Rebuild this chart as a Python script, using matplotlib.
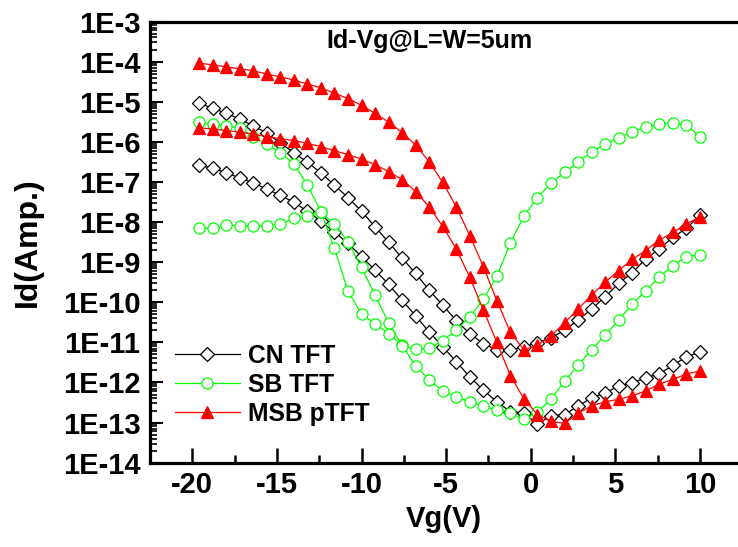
import numpy as np
import matplotlib
matplotlib.use("Agg")
import matplotlib.pyplot as plt
from matplotlib.ticker import FixedLocator, FixedFormatter, LogLocator, NullFormatter, MultipleLocator

plt.rcParams['font.family'] = ['Liberation Sans', 'DejaVu Sans']
plt.rcParams['font.weight'] = 'bold'
plt.rcParams['axes.unicode_minus'] = False

# Gate voltage sweep (V)
vg = [-19.6, -18.8, -18.0, -17.2, -16.4, -15.6, -14.8, -14.0, -13.2, -12.4,
      -11.6, -10.8, -10.0, -9.2, -8.4, -7.6, -6.8, -6.0, -5.2, -4.4,
      -3.6, -2.8, -2.0, -1.2, -0.4, 0.4, 1.2, 2.0, 2.8, 3.6,
      4.4, 5.2, 6.0, 6.8, 7.6, 8.4, 9.2, 10.0]

# Drain current, stored as log10(Id / A)
cn_high = [-5.04, -5.16, -5.29, -5.43, -5.60, -5.78, -6.03, -6.27, -6.51, -6.77,
           -7.08, -7.39, -7.73, -8.12, -8.50, -8.90, -9.28, -9.70, -10.07, -10.46,
           -10.78, -11.03, -11.19, -11.19, -11.11, -11.01, -10.88, -10.70, -10.44, -10.17,
           -9.86, -9.53, -9.26, -8.92, -8.67, -8.38, -8.16, -7.83]
cn_low = [-6.58, -6.66, -6.77, -6.90, -7.02, -7.18, -7.33, -7.51, -7.73, -7.98,
          -8.25, -8.53, -8.86, -9.20, -9.55, -9.95, -10.34, -10.74, -11.11, -11.48,
          -11.86, -12.19, -12.48, -12.73, -12.77, -13.04, -12.83, -12.80, -12.59, -12.38,
          -12.26, -12.09, -12.01, -11.88, -11.79, -11.57, -11.36, -11.24]
sb_high = [-5.51, -5.56, -5.61, -5.66, -5.87, -6.06, -6.27, -6.55, -7.08, -7.74,
           -8.65, -9.72, -10.30, -10.53, -10.78, -11.07, -11.17, -11.15, -10.96, -10.69,
           -10.36, -9.93, -9.35, -8.52, -7.85, -7.39, -7.03, -6.76, -6.50, -6.26,
           -6.05, -5.90, -5.75, -5.64, -5.56, -5.52, -5.58, -5.87]
sb_low = [-8.16, -8.16, -8.07, -8.10, -8.10, -8.10, -8.05, -7.91, -7.85, -7.76,
          -8.04, -8.50, -9.13, -9.82, -10.51, -11.08, -11.59, -11.94, -12.21, -12.36,
          -12.48, -12.59, -12.69, -12.77, -12.92, -12.74, -12.42, -11.97, -11.57, -11.18,
          -10.82, -10.44, -10.05, -9.71, -9.36, -9.09, -8.86, -8.82]
msb_high = [-4.04, -4.08, -4.13, -4.18, -4.23, -4.31, -4.38, -4.46, -4.56, -4.65,
            -4.79, -4.92, -5.09, -5.29, -5.51, -5.77, -6.08, -6.50, -7.01, -7.62,
            -8.34, -9.11, -9.96, -10.75, -11.19, -11.07, -10.84, -10.51, -10.17, -9.82,
            -9.50, -9.21, -8.93, -8.71, -8.45, -8.26, -8.05, -7.87]
msb_low = [-5.65, -5.68, -5.72, -5.76, -5.81, -5.87, -5.92, -5.97, -6.04, -6.12,
           -6.22, -6.32, -6.43, -6.57, -6.74, -6.94, -7.24, -7.62, -8.11, -8.67,
           -9.38, -10.19, -11.00, -11.83, -12.41, -12.80, -12.97, -13.02, -12.77, -12.58,
           -12.48, -12.42, -12.33, -12.21, -12.04, -11.92, -11.79, -11.71]

y_exponents = list(range(-14, -2))
y_tick_labels = [f"1E{e}" for e in y_exponents]
x_ticks = [-20, -15, -10, -5, 0, 5, 10]

fig = plt.figure(figsize=(7.38, 5.47), dpi=100)
ax = fig.add_axes([150 / 738, 84.3 / 547, 588 / 738, 441.2 / 547])


def curve(logs, color, marker, ms, face, label=None):
    return ax.plot(vg, 10.0 ** np.asarray(logs), color=color, lw=0.9,
                   marker=marker, ms=ms, mfc=face, mec=color, mew=0.9,
                   label=label)[0]


h_cn = curve(cn_high, 'black', 'D', 7.0, 'white', 'CN TFT')
curve(cn_low, 'black', 'D', 7.0, 'white')
h_sb = curve(sb_high, '#00ff00', 'o', 8.0, 'white', 'SB TFT')
curve(sb_low, '#00ff00', 'o', 8.0, 'white')
h_msb = curve(msb_high, 'red', '^', 8.8, 'red', 'MSB pTFT')
curve(msb_low, 'red', '^', 8.8, 'red')

ax.set_yscale('log')
ax.set_ylim(1e-14, 1e-3)
ax.set_xlim(-22.5, 12.25)

ax.yaxis.set_major_locator(FixedLocator([10.0 ** e for e in y_exponents]))
ax.yaxis.set_major_formatter(FixedFormatter(y_tick_labels))
ax.yaxis.set_minor_locator(LogLocator(base=10, subs=np.arange(2, 10), numticks=50))
ax.yaxis.set_minor_formatter(NullFormatter())
ax.xaxis.set_major_locator(FixedLocator(x_ticks))
ax.xaxis.set_minor_locator(MultipleLocator(2.5))

ax.tick_params(axis='y', which='major', direction='in', length=9, width=1.5,
               labelsize=21, pad=7)
ax.tick_params(axis='y', which='minor', direction='in', length=5, width=1.2)
ax.tick_params(axis='x', which='major', direction='in', length=11, width=1.8,
               labelsize=21, pad=6)
ax.tick_params(axis='x', which='minor', direction='in', length=6, width=1.8)
ax.tick_params(top=False, right=False, which='both')

for side in ('left', 'bottom', 'top'):
    ax.spines[side].set_linewidth(2.3)
ax.spines['right'].set_visible(False)

ax.set_ylabel('Id(Amp.)', fontsize=23, fontweight='bold')
ax.yaxis.set_label_coords(-0.182, 0.5)
ax.set_xlabel('Vg(V)', fontsize=21, fontweight='bold', labelpad=4)

ax.text(0.476, 0.956, 'Id-Vg@L=W=5um', transform=ax.transAxes,
        ha='center', va='center', fontsize=18, fontweight='bold')

ax.legend(handles=[h_cn, h_sb, h_msb], loc='upper left',
          bbox_to_anchor=(175 / 738, (547 - 344) / 547),
          bbox_transform=fig.transFigure, frameon=False,
          prop={'size': 17.7, 'weight': 'bold'},
          handlelength=2.64, handletextpad=0.33, labelspacing=0.2,
          borderpad=0, borderaxespad=0)

fig.savefig('out.png', dpi=100)
